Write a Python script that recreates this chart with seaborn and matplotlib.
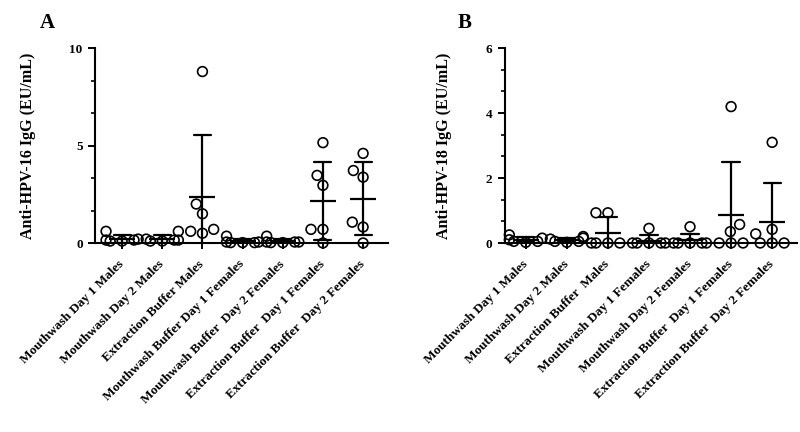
import numpy as np
import pandas as pd
import seaborn as sns
import matplotlib.pyplot as plt
import warnings

warnings.filterwarnings('ignore')

# labels on the two panels
labels_a = ["Mouthwash Day 1 Males", "Mouthwash Day 2 Males", "Extraction Buffer Males",
            "Mouthwash Buffer Day 1 Females", "Mouthwash Buffer  Day 2 Females",
            "Extraction Buffer  Day 1 Females", "Extraction Buffer  Day 2 Females"]
labels_b = ["Mouthwash Day 1 Males", "Mouthwash Day 2 Males", "Extraction Buffer  Males",
            "Mouthwash Day 1 Females", "Mouthwash Day 2 Females",
            "Extraction Buffer  Day 1 Females", "Extraction Buffer  Day 2 Females"]

# anti-HPV-16 IgG (EU/mL), panel A
hpv16_mw_d1_m = [0.15, 0.1, 0.2, 0.1, 0.15, 0.6]
hpv16_mw_d2_m = [0.15, 0.2, 0.1, 0.15, 0.1, 0.6]
hpv16_eb_m = [8.8, 2.0, 1.5, 0.7, 0.5, 0.6]
hpv16_mw_d1_f = [0.02, 0.02, 0.02, 0.05, 0.05, 0.35]
hpv16_mw_d2_f = [0.02, 0.02, 0.05, 0.05, 0.05, 0.35]
hpv16_eb_d1_f = [5.15, 3.47, 2.96, 0.7, 0.7, 0.0]
hpv16_eb_d2_f = [4.6, 3.72, 3.38, 1.07, 0.82, 0.0]

# anti-HPV-18 IgG (EU/mL), panel B
hpv18_mw_d1_m = [0.15, 0.05, 0.02, 0.05, 0.1, 0.25]
hpv18_mw_d2_m = [0.15, 0.02, 0.05, 0.05, 0.12, 0.2]
hpv18_eb_m = [0.0, 0.0, 0.0, 0.0, 0.93, 0.93]
hpv18_mw_d1_f = [0.0, 0.0, 0.0, 0.0, 0.0, 0.45]
hpv18_mw_d2_f = [0.0, 0.0, 0.0, 0.0, 0.0, 0.5]
hpv18_eb_d1_f = [4.2, 0.57, 0.35, 0.0, 0.0, 0.0]
hpv18_eb_d2_f = [3.1, 0.42, 0.28, 0.0, 0.0, 0.0]

groups_a = [hpv16_mw_d1_m, hpv16_mw_d2_m, hpv16_eb_m, hpv16_mw_d1_f,
            hpv16_mw_d2_f, hpv16_eb_d1_f, hpv16_eb_d2_f]
groups_b = [hpv18_mw_d1_m, hpv18_mw_d2_m, hpv18_eb_m, hpv18_mw_d1_f,
            hpv18_mw_d2_f, hpv18_eb_d1_f, hpv18_eb_d2_f]


def long_df(labels, groups):
    rows = []
    for lab, vals in zip(labels, groups):
        for v in vals:
            rows.append({"group": lab, "value": v})
    return pd.DataFrame(rows)


df_a = long_df(labels_a, groups_a)
df_b = long_df(labels_b, groups_b)

sns.set_style("ticks")
plt.rcParams['font.family'] = ['Liberation Serif', 'DejaVu Serif']
plt.rcParams['font.weight'] = 'bold'
plt.rcParams['text.color'] = 'black'
plt.rcParams['axes.labelcolor'] = 'black'
plt.rcParams['axes.edgecolor'] = 'black'
plt.rcParams['xtick.color'] = 'black'
plt.rcParams['ytick.color'] = 'black'

fig = plt.figure(figsize=(8, 4.32), dpi=100)
ax_a = fig.add_axes([0.119, 0.4375, 0.366, 0.451])
ax_b = fig.add_axes([0.631, 0.4375, 0.365, 0.451])


def draw_panel(ax, df, labels, ylab, ymax, ystep, xlim):
    sns.swarmplot(data=df, x="group", y="value", order=labels, ax=ax,
                  color="black", size=7, linewidth=1.2)
    for coll in ax.collections:
        coll.set_facecolor("none")
        coll.set_edgecolor("black")
        coll.set_clip_on(False)
    sns.pointplot(data=df, x="group", y="value", order=labels, ax=ax,
                  errorbar="sd", capsize=0.42, color="black",
                  linestyle="none", marker="_", markersize=19,
                  markeredgewidth=1.6, err_kws={"linewidth": 1.6})
    ax.set_ylim(0, ymax)
    ax.set_xlim(*xlim)
    ax.set_yticks(np.arange(0, ymax + 0.01, ystep))
    ax.set_yticks(np.arange(0, ymax + 0.01, ystep / 3), minor=True)
    ax.set_ylabel(ylab, fontsize=11.5, fontweight="bold", labelpad=24)
    ax.set_xlabel("")
    ax.set_xticks(range(len(labels)))
    ax.set_xticklabels(labels, rotation=45, ha="right", va="center",
                       rotation_mode="anchor", fontsize=9.5, fontweight="bold")
    ax.tick_params(axis="x", length=4, width=1.4, pad=10)
    ax.tick_params(axis="y", which="major", length=5, width=1.4, labelsize=9.5, pad=4)
    ax.tick_params(axis="y", which="minor", length=3, width=1.2)
    for lab in ax.get_yticklabels():
        lab.set_fontweight("bold")
    sns.despine(ax=ax)
    ax.spines["left"].set_linewidth(1.5)
    ax.spines["bottom"].set_linewidth(1.5)


draw_panel(ax_a, df_a, labels_a, "Anti-HPV-16 IgG (EU/mL)", 10, 5, (-0.67, 6.62))
draw_panel(ax_b, df_b, labels_b, "Anti-HPV-18 IgG (EU/mL)", 6, 2, (-0.51, 6.6))

fig.text(0.05, 0.97, "A", fontsize=15, fontweight="bold", va="top", ha="left")
fig.text(0.572, 0.97, "B", fontsize=15, fontweight="bold", va="top", ha="left")

fig.savefig("out.png", dpi=100)
